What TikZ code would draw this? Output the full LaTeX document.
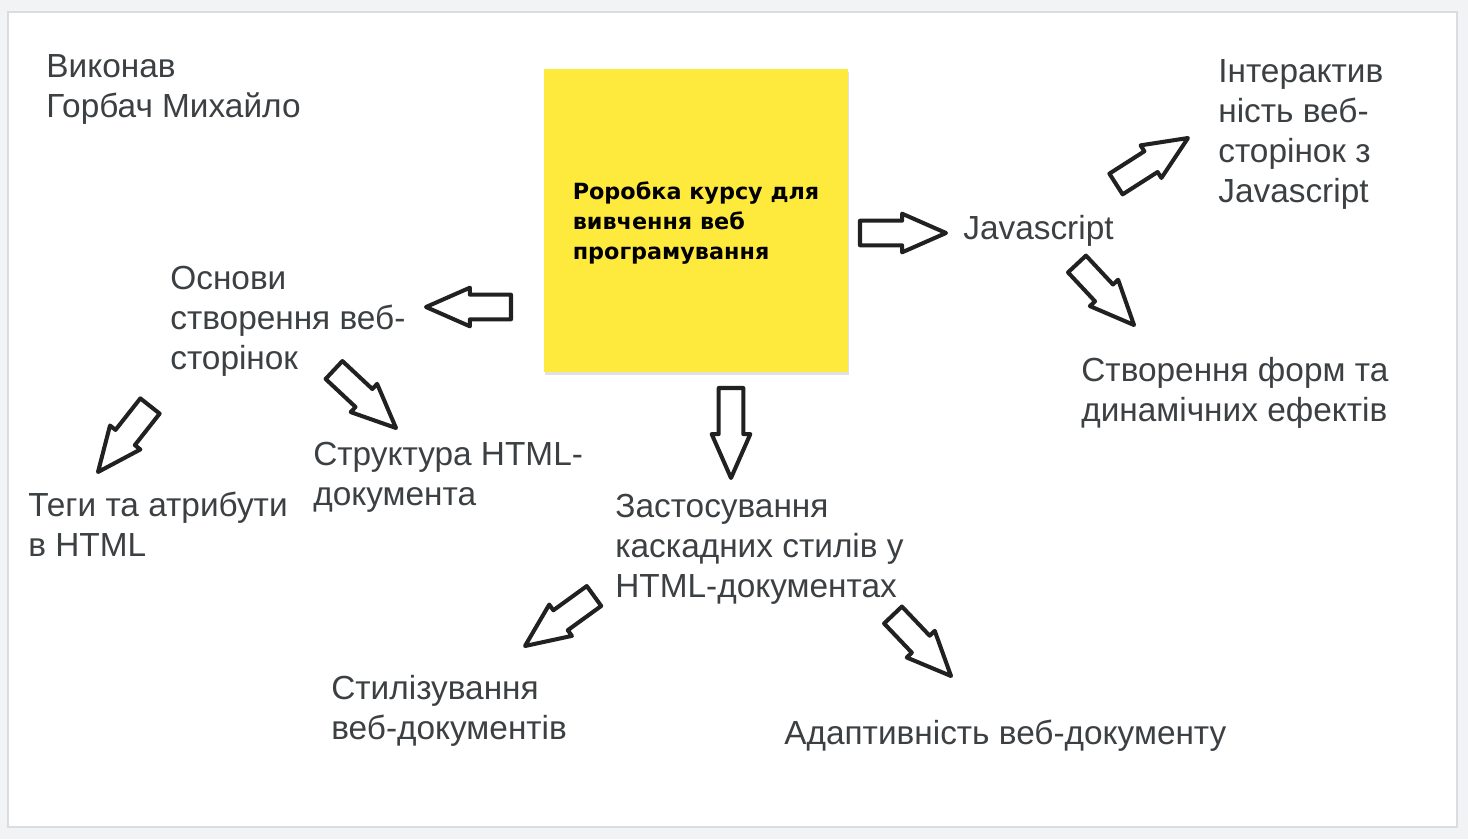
\documentclass[tikz,border=0pt]{standalone}
\usepackage{fontspec}
\setmainfont{Liberation Sans}
\newfontfamily\notefont{DejaVu Sans}
\usepackage{tikz}
\usetikzlibrary{calc}
\definecolor{txtgray}{HTML}{3C4043}
\definecolor{bggray}{HTML}{F1F3F4}
\definecolor{edgegray}{HTML}{DADCE0}
\definecolor{noteyellow}{HTML}{FDEA3D}
\newcommand{\blockarrow}[2]{\coordinate (#1-#2) at ($(#2)!25pt!(#1)$); \filldraw[blockarr] ($(#1)!7pt!90:(#2)$) -- ($(#1-#2)!7pt!90:(#2)$) -- ($(#1-#2)!11pt!90:(#2)$) -- (#2) -- ($(#1-#2)!11pt!-90:(#2)$) -- ($(#1-#2)!7pt!-90:(#2)$) -- ($(#1)!7pt!-90:(#2)$) -- cycle;}

\begin{document}
\begin{tikzpicture}[x=0.02cm,y=-0.02cm,
    lbl/.style={anchor=base west,inner sep=0pt,align=left,text=txtgray,font=\fontsize{19}{22.7}\selectfont},
    notebox/.style={fill=noteyellow,minimum width=6.08cm,minimum height=6.06cm,inner sep=0pt,align=left,font=\notefont\bfseries\fontsize{12.7}{17}\selectfont},
    blockarr/.style={draw=black!87,fill=white,line width=2.3pt,line join=round}]
    \useasboundingbox (0,0) rectangle (1468,839);
    \fill[bggray] (0,0) rectangle (1468,839);
    \filldraw[fill=white,draw=edgegray,line width=1pt] (8,12) rectangle (1457,827);

    %note
    \fill[black,opacity=.12] (545,72) rectangle (849,375);
    \node[notebox] (main) at (696,220.5) {};
    \node[notebox,fill=none,minimum width=0pt,minimum height=0pt] (maintxt) at (696,223) {Роробка курсу для\\вивчення веб\\програмування};

    %labels, placed at the baseline of their last line
    \node[lbl] (autor) at (46,117) {Виконав\\Горбач Михайло};
    \node[lbl] (osnovy) at (170,369) {Основи\\створення веб-\\сторінок};
    \node[lbl] (tegy) at (28,556) {Теги та атрибути\\в HTML};
    \node[lbl] (strukt) at (313,505) {Структура HTML-\\документа};
    \node[lbl] (js) at (963,239) {Javascript};
    \node[lbl] (inter) at (1218,202) {Інтерактив\\ність веб-\\сторінок з\\Javascript};
    \node[lbl] (formy) at (1081,421) {Створення форм та\\динамічних ефектів};
    \node[lbl] (zast) at (615,597) {Застосування\\каскадних стилів у\\HTML-документах};
    \node[lbl] (styl) at (331,739) {Стилізування\\веб-документів};
    \node[lbl] (adapt) at (784,744) {Адаптивність веб-документу};

    %arrows
    \foreach \tx/\ty/\hx/\hy [count=\i] in {860/233/946/233, 511/307/426/307, 731/388/731/478,
        1116/184/1188/138, 1077/264/1134/325, 150/406/98/472, 594/596/525/646,
        334/370/396/428, 893/615/951/676} {
        \coordinate (t\i) at (\tx,\ty);
        \coordinate (h\i) at (\hx,\hy);
        \blockarrow{t\i}{h\i}
    }
\end{tikzpicture}
\end{document}
